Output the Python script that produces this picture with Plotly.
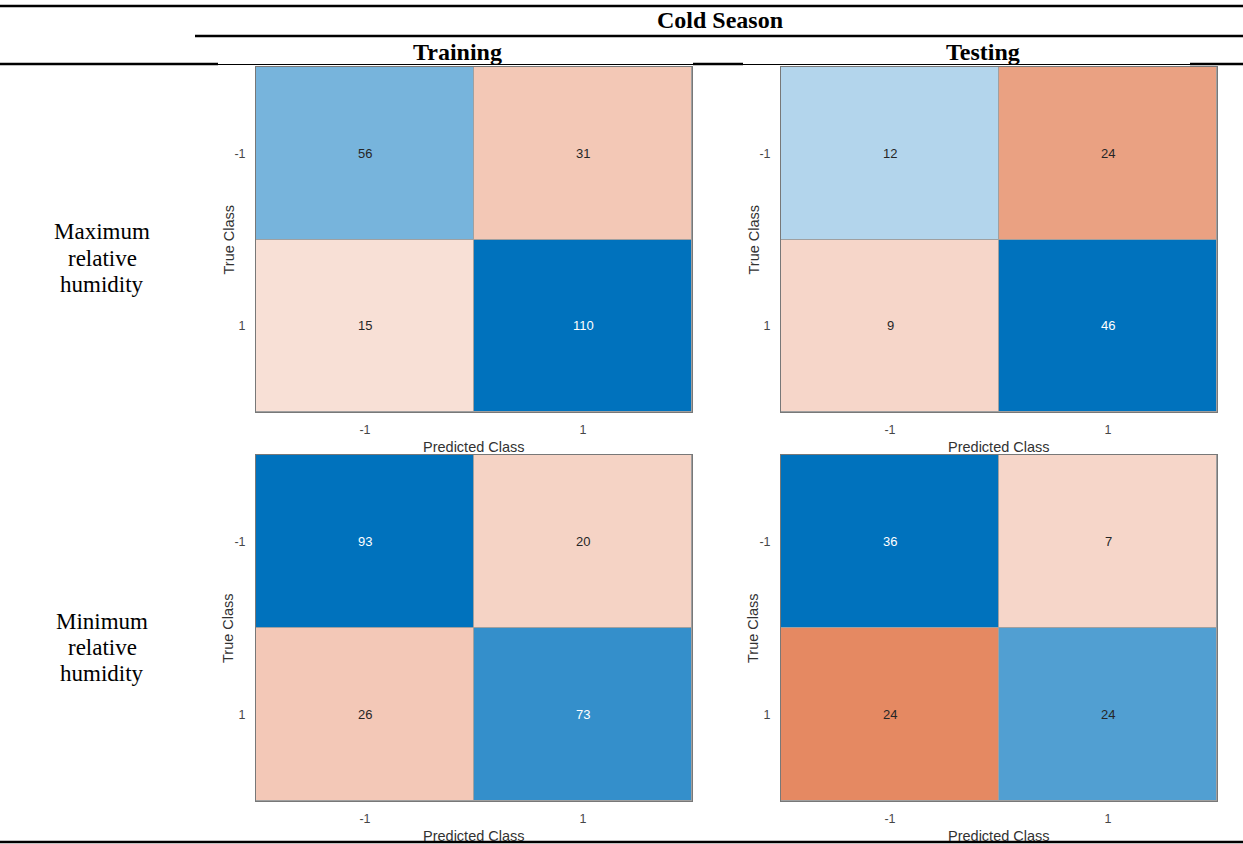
import plotly.graph_objects as go

W, H = 1243, 844

# Class labels shared by every confusion matrix
classes = ["-1", "1"]

# Confusion matrices: rows = true class, columns = predicted class
max_rh_train = [[56, 31], [15, 110]]
max_rh_test = [[12, 24], [9, 46]]
min_rh_train = [[93, 20], [26, 73]]
min_rh_test = [[36, 7], [24, 24]]

column_headers = ["Training", "Testing"]
group_header = "Cold Season"
row_headers = [["Maximum", "relative", "humidity"], ["Minimum", "relative", "humidity"]]

BLUE = (0, 114, 189)
RED = (217, 83, 25)
TINT = 0.05  # colour of an empty cell: a faint tint of the full colour

SANS = "Liberation Sans, Arial, sans-serif"
SERIF = "Liberation Serif, Times New Roman, serif"


def px_x(p):
    return p / W


def px_y(p):
    return 1 - p / H


def blend(rgb, t):
    return tuple(255 - t * (255 - c) for c in rgb)


def rgb_str(rgb):
    return "rgb(%d,%d,%d)" % tuple(round(c) for c in rgb)


def paper_text(x, y, text, font, **kw):
    return dict(x=px_x(x), y=px_y(y), xref="paper", yref="paper", text=text,
                showarrow=False, xanchor="center", yanchor="middle", font=font, **kw)


fig = go.Figure()

# Pixel boxes of the four matrices: (left, right, top, bottom)
boxes = [
    (256, 692, 67, 412),
    (781, 1217, 67, 412),
    (256, 692, 455, 801),
    (781, 1217, 455, 801),
]
matrices = [max_rh_train, max_rh_test, min_rh_train, min_rh_test]

annotations = []
for k, (mat, box) in enumerate(zip(matrices, boxes)):
    idx = "" if k == 0 else str(k + 1)
    xa, ya = "x" + idx, "y" + idx
    vmax = max(max(r) for r in mat)
    diag = [[mat[i][j] if i == j else None for j in range(2)] for i in range(2)]
    off = [[mat[i][j] if i != j else None for j in range(2)] for i in range(2)]
    for z, col in ((diag, BLUE), (off, RED)):
        fig.add_trace(go.Heatmap(
            z=z, x=classes, y=classes, xaxis=xa, yaxis=ya,
            colorscale=[[0, rgb_str(blend(col, TINT))], [1, rgb_str(col)]],
            zmin=0, zmax=vmax, showscale=False, xgap=1, ygap=1,
            hoverinfo="skip",
        ))
    # cell counts, with text colour chosen from cell brightness
    for i in range(2):
        for j in range(2):
            v = mat[i][j]
            rgb = blend(BLUE if i == j else RED, TINT + (1 - TINT) * v / vmax)
            lum = 0.299 * rgb[0] + 0.587 * rgb[1] + 0.114 * rgb[2]
            color = "white" if lum < 135 else "rgb(38,38,38)"
            annotations.append(dict(
                x=j, y=i, xref=xa, yref=ya, text=str(v),
                showarrow=False, xanchor="center", yanchor="middle",
                font=dict(family=SANS, size=13, color=color),
            ))
    l, r, t, b = box
    axis_common = dict(
        type="category", showline=True, mirror=True, linecolor="rgb(120,120,120)",
        linewidth=1, showgrid=False, zeroline=False, ticks="",
        tickfont=dict(family=SANS, size=12.5, color="rgb(70,70,70)"),
        fixedrange=True,
    )
    fig.layout["xaxis" + idx] = dict(
        axis_common, domain=[px_x(l), px_x(r)], anchor=ya,
        ticklabelstandoff=6, range=[-0.5, 1.5],
    )
    fig.layout["yaxis" + idx] = dict(
        axis_common, domain=[px_y(b), px_y(t)], anchor=xa,
        range=[1.5, -0.5], ticklabelstandoff=7,
    )
    # axis titles
    label_font = dict(family=SANS, size=14.5, color="rgb(50,50,50)")
    annotations.append(paper_text((l + r) / 2, b + 35, "Predicted Class", label_font))
    annotations.append(paper_text(l - 28, (t + b) / 2, "True Class", label_font,
                                  textangle=-90))

# Table headers
head_font = dict(family=SERIF, size=24, color="black")
annotations.append(paper_text(720, 20, "<b>%s</b>" % group_header, head_font))
for name, cx in zip(column_headers, (457, 983)):
    annotations.append(paper_text(cx, 52, "<b>%s</b>" % name, head_font))
for lines, cy in zip(row_headers, (258, 647)):
    for n, word in enumerate(lines):
        annotations.append(paper_text(102, cy + (n - 1) * 26, word,
                                      dict(family=SERIF, size=23, color="black")))

# Table rules
shapes = []


def hline(x0, x1, y, w):
    shapes.append(dict(type="line", xref="paper", yref="paper",
                       x0=px_x(x0), x1=px_x(x1), y0=px_y(y), y1=px_y(y),
                       line=dict(color="black", width=w)))


hline(0, W, 6, 2.5)
hline(195, W, 36, 2.5)
for x0, x1 in ((0, 218), (693, 743), (1190, W)):
    hline(x0, x1, 64, 2.5)
for x0, x1 in ((218, 693), (743, 1190)):
    hline(x0, x1, 64.5, 1.2)
hline(0, W, 842, 2.5)

fig.update_layout(
    width=W, height=H, margin=dict(l=0, r=0, t=0, b=0),
    paper_bgcolor="white", plot_bgcolor="rgb(160,160,160)",
    annotations=annotations, shapes=shapes, showlegend=False,
)

fig.write_html("out.html", config={"displayModeBar": False})
